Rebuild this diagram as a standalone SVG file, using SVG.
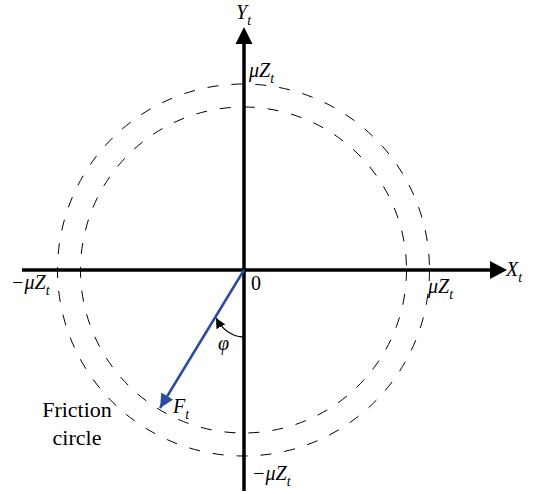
<svg xmlns="http://www.w3.org/2000/svg" width="537" height="494" viewBox="0 0 537 494">
<style>
.circ{fill:none;stroke:#000;stroke-width:1;stroke-dasharray:11 13}
.axis{stroke:#000;stroke-width:3.5;fill:none}
.m{font-family:'Liberation Serif','Times New Roman',Times,'DejaVu Serif',serif;font-style:italic;font-size:20px;fill:#000}
.s{font-size:14px}
.r{font-family:'Liberation Serif','Times New Roman',Times,'DejaVu Serif',serif;font-size:22px;fill:#000}
</style>
<defs>
<marker id="blueHead" markerUnits="userSpaceOnUse" markerWidth="16" markerHeight="14" refX="14" refY="7" orient="auto">
<path d="M0,0 L14,7 L0,14 Z" fill="#2b4c9e"/>
</marker>
<marker id="blackHead" markerUnits="userSpaceOnUse" markerWidth="12" markerHeight="10" refX="10" refY="5" orient="auto">
<path d="M0,0 L10,5 L0,10 Z" fill="#000"/>
</marker>
</defs>
<g id="circles">
<circle class="circ" cx="243.5" cy="270" r="186"/>
<circle class="circ" cx="243.5" cy="270" r="163"/>
</g>
<g id="connectors">
<line class="axis" x1="22" y1="270" x2="492" y2="270"/>
<path d="M490,261 L507,270 L490,279 Z" fill="#000"/>
<line class="axis" x1="244" y1="491" x2="244" y2="42"/>
<path d="M235.5,44 L244,27 L252.5,44 Z" fill="#000"/>
<line x1="244" y1="270" x2="160" y2="408" stroke="#2b4c9e" stroke-width="2.5" marker-end="url(#blueHead)"/>
<path d="M243,337 Q226,336 216,318" fill="none" stroke="#000" stroke-width="1.3" marker-end="url(#blackHead)"/>
</g>
<g id="labels">
<text class="m" x="236" y="19">Y<tspan class="s" dy="6">t</tspan></text>
<text class="m" x="249" y="77">μZ<tspan class="s" dy="6">t</tspan></text>
<text class="m" x="506" y="276">X<tspan class="s" dy="6">t</tspan></text>
<text class="m" x="428" y="293">μZ<tspan class="s" dy="6">t</tspan></text>
<text class="m" x="11" y="289">−μZ<tspan class="s" dy="6">t</tspan></text>
<text class="r" x="251" y="290" style="font-size:20px">0</text>
<text class="m" x="218" y="350">φ</text>
<text class="m" x="173" y="413">F<tspan class="s" dy="6">t</tspan></text>
<text class="m" x="252" y="480">−μZ<tspan class="s" dy="6">t</tspan></text>
</g>
<g id="friction-circle-label">
<text class="r" x="77" y="417" text-anchor="middle">Friction</text>
<text class="r" x="77" y="445" text-anchor="middle">circle</text>
</g>
</svg>
